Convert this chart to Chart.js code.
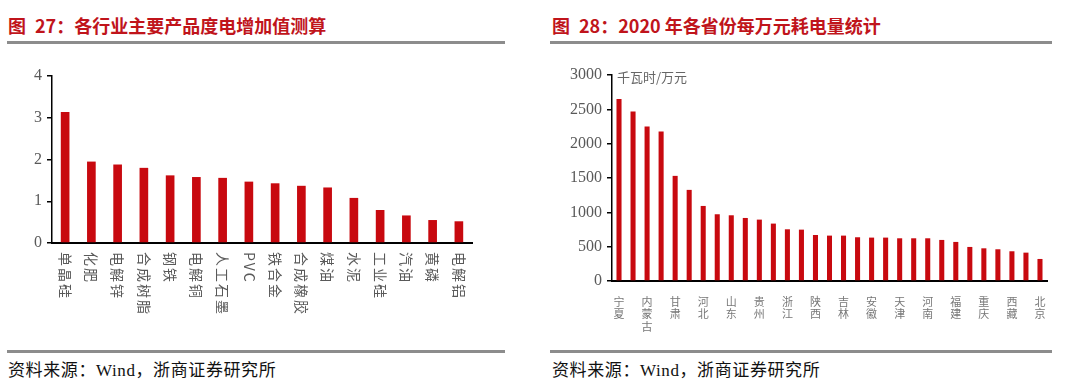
<!DOCTYPE html>
<html>
<head>
<meta charset="utf-8">
<script src="https://cdn.jsdelivr.net/npm/chart.js@4/dist/chart.umd.min.js"></script>
<style>
  body { margin: 0; background: #fff; width: 1080px; height: 385px; position: relative; overflow: hidden; }
  .title { position: absolute; top: 12px; font: bold 18px "Noto Sans CJK SC", sans-serif; color: #c0141b; white-space: nowrap; }
  .rule { position: absolute; height: 3px; background: #8c8c8c; }
  .src { position: absolute; top: 356px; font: 17px "Liberation Serif", "Noto Sans CJK SC", serif; color: #111; white-space: nowrap; letter-spacing: 0.6px; }
  .box { position: absolute; top: 50px; height: 295px; }
</style>
</head>
<body>
<div class="title" style="left:8px">图&ensp;27：各行业主要产品度电增加值测算</div>
<div class="rule" style="left:7px; top:41px; width:498px"></div>
<div class="title" style="left:552px">图&ensp;28：2020 年各省份每万元耗电量统计</div>
<div class="rule" style="left:550px; top:41px; width:502px"></div>

<div class="box" style="left:0; width:540px"><canvas id="leftChart"></canvas></div>
<div class="box" style="left:545px; width:535px"><canvas id="rightChart"></canvas></div>

<div class="rule" style="left:7px; top:350px; width:498px"></div>
<div class="src" style="left:8px">资料来源：Wind，浙商证券研究所</div>
<div class="rule" style="left:550px; top:350px; width:502px"></div>
<div class="src" style="left:552px">资料来源：Wind，浙商证券研究所</div>

<script>
// 图27 数据
const industries = ['单晶硅', '化肥', '电解锌', '合成树脂', '钢铁', '电解铜', '人工石墨', 'PVC',
    '铁合金', '合成橡胶', '煤油', '水泥', '工业硅', '汽油', '黄磷', '电解铝'];
const valuePerKwh = [3.14, 1.95, 1.88, 1.80, 1.62, 1.58, 1.56, 1.47, 1.43, 1.37, 1.33, 1.08, 0.79, 0.66, 0.55, 0.52];
const leftTicks = [0, 1, 2, 3, 4];

// 图28 数据
const provinces = ['宁夏', '青海', '内蒙古', '新疆', '甘肃', '山西', '河北', '云南', '山东', '广西',
    '贵州', '辽宁', '浙江', '江苏', '陕西', '黑龙江', '吉林', '江西', '安徽', '湖北',
    '天津', '湖南', '河南', '海南', '福建', '四川', '重庆', '上海', '西藏', '广东', '北京'];
const kwhPer10k = [2650, 2468, 2249, 2177, 1531, 1327, 1093, 972, 957, 918,
    894, 836, 753, 748, 670, 661, 661, 637, 632, 632,
    622, 622, 622, 598, 569, 496, 476, 462, 433, 413, 321];
const rightTicks = [0, 500, 1000, 1500, 2000, 2500, 3000];
const unitLabel = '千瓦时/万元';

const RED = '#c8090f';
const GRAY = '#595959';

function yAxis(ticks, width) {
    return {
        min: ticks[0],
        max: ticks[ticks.length - 1],
        afterBuildTicks: s => { s.ticks = ticks.map(v => ({ value: v })); },
        afterFit: s => { s.width = width; },
        grid: { drawOnChartArea: false, tickLength: 5, color: '#000', lineWidth: 1.5 },
        border: { color: '#000', width: 1.5 },
        ticks: {
            color: GRAY, padding: 5,
            font: { family: 'Liberation Serif', size: 16 },
            callback: v => String(v)
        }
    };
}

// 左图横轴文字：顺时针旋转 90°
const rotatedLabels = {
    id: 'rotatedLabels',
    afterDraw(chart) {
        const x = chart.scales.x;
        const ctx = chart.ctx;
        ctx.save();
        ctx.fillStyle = GRAY;
        ctx.font = '14px "Noto Sans CJK SC", "Liberation Serif", serif';
        ctx.letterSpacing = '2px';
        ctx.textAlign = 'left';
        ctx.textBaseline = 'middle';
        chart.data.labels.forEach((lab, i) => {
            ctx.save();
            ctx.translate(x.getPixelForValue(i), x.top + 9);
            ctx.rotate(Math.PI / 2);
            ctx.fillText(lab, 0, 0);
            ctx.restore();
        });
        ctx.restore();
    }
};

new Chart(document.getElementById('leftChart'), {
    type: 'bar',
    data: {
        labels: industries,
        datasets: [{ data: valuePerKwh, backgroundColor: RED, barPercentage: 0.33, categoryPercentage: 1 }]
    },
    options: {
        responsive: true,
        maintainAspectRatio: false,
        animation: false,
        layout: { padding: { top: 26, right: 68, left: 0, bottom: 0 } },
        plugins: { legend: { display: false }, tooltip: { enabled: false } },
        scales: {
            x: {
                afterFit: s => { s.height = 102; },
                grid: { display: false },
                border: { color: '#000', width: 2 },
                ticks: { display: false }
            },
            y: yAxis(leftTicks, 52)
        }
    },
    plugins: [rotatedLabels]
});

// 右图单位
const unitText = {
    id: 'unitText',
    afterDraw(chart) {
        const ctx = chart.ctx;
        const y = chart.scales.y;
        ctx.save();
        ctx.fillStyle = '#666';
        ctx.font = '13px "Noto Sans CJK SC", sans-serif';
        ctx.textBaseline = 'middle';
        ctx.fillText(unitLabel, chart.chartArea.left + 5, y.getPixelForValue(rightTicks[rightTicks.length - 1]) + 2);
        ctx.restore();
    }
};

new Chart(document.getElementById('rightChart'), {
    type: 'bar',
    data: {
        labels: provinces.map(p => p.split('')),
        datasets: [{ data: kwhPer10k, backgroundColor: RED, barPercentage: 0.36, categoryPercentage: 1 }]
    },
    options: {
        responsive: true,
        maintainAspectRatio: false,
        animation: false,
        layout: { padding: { top: 25, right: 33, left: 0, bottom: 0 } },
        plugins: { legend: { display: false }, tooltip: { enabled: false } },
        scales: {
            x: {
                afterFit: s => { s.height = 64; },
                grid: { display: false },
                border: { color: '#000', width: 2 },
                ticks: {
                    autoSkip: false,
                    maxRotation: 0,
                    minRotation: 0,
                    padding: 6,
                    color: '#777',
                    font: { family: '"Noto Sans CJK SC", sans-serif', size: 11, lineHeight: 1.15 },
                    callback: function(v, i) { return i % 2 ? '' : this.getLabelForValue(v); }
                }
            },
            y: yAxis(rightTicks, 67)
        }
    },
    plugins: [unitText]
});
</script>
</body>
</html>
